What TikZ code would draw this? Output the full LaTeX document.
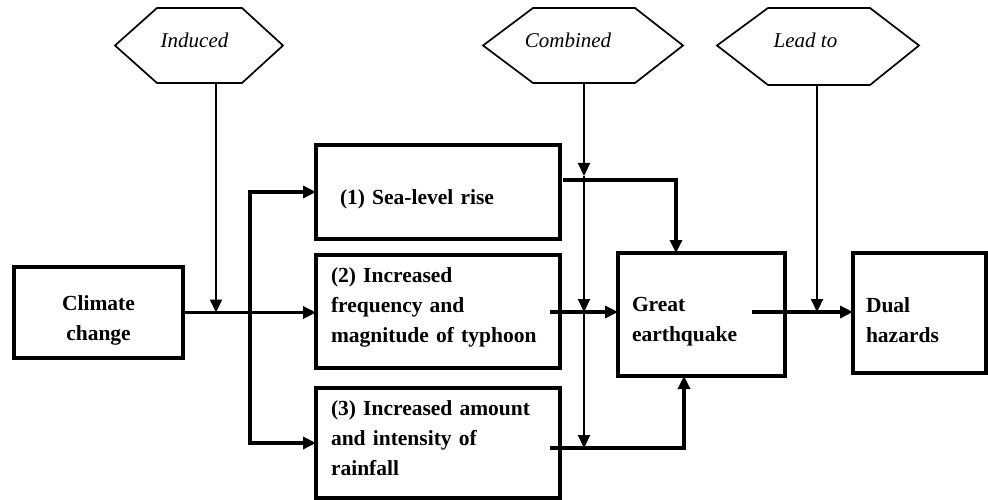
\documentclass[tikz,border=0pt]{standalone}
\usepackage{fontspec}
\setmainfont{Liberation Serif}
\usetikzlibrary{arrows.meta}
\newcommand{\lift}[1]{\rule{0pt}{#1pt}}
\newcommand{\sink}[1]{\rule[-#1pt]{0pt}{0pt}}
\begin{document}
\begin{tikzpicture}[x=1pt,y=-1pt,
  box/.style={draw,line width=3.4pt,inner ysep=0pt,outer sep=0pt,anchor=north west,
    font=\fontsize{21.5}{30}\selectfont\bfseries,align=left},
  flow/.style={line width=3.4pt,-{Triangle[length=13pt,width=12pt]}},
  flowboth/.style={line width=3.4pt,{Triangle[length=13pt,width=12pt]}-{Triangle[length=13pt,width=12pt]}},
  thinarrow/.style={line width=2.2pt,-{Triangle[length=13pt,width=12pt]}},
  hexline/.style={line width=1.7pt,line join=miter},
  hexlbl/.style={inner sep=0pt,font=\fontsize{21}{24}\selectfont\itshape}
]
\useasboundingbox (0,0) rectangle (988,500);

% boxes
\node[box,minimum width=169pt,minimum height=91pt,text width=141pt,inner xsep=14pt,align=center] (cc) at (14,267) {\lift{31}Climate\\change};
\node[box,minimum width=244pt,minimum height=94pt,text width=196pt,inner xsep=24pt] (b1) at (316,145) {\lift{29}(1)\ Sea-level rise};
\node[box,minimum width=244pt,minimum height=113pt,text width=214pt,inner xsep=15pt] (b2) at (316,255) {(2) Increased\\frequency and\\magnitude of typhoon\sink{13}};
\node[box,minimum width=244pt,minimum height=110pt,text width=214pt,inner xsep=15pt] (b3) at (316,388) {(3) Increased amount\\and intensity of\\rainfall\sink{10}};
\node[box,minimum width=167pt,minimum height=123pt,text width=139pt,inner xsep=14pt] (ge) at (618,253) {\lift{29}Great\\earthquake};
\node[box,minimum width=133pt,minimum height=120pt,text width=107pt,inner xsep=13pt] (dh) at (853,253) {\lift{29}Dual\\hazards};

% hexagons
\node[hexlbl] (ind) at (194.5,40) {Induced};
\draw[hexline] (115,45.5) -- (157,8) -- (242,8) -- (283,45.5) -- (242,83) -- (157,83) -- cycle;
\node[hexlbl] (comb) at (568,40) {Combined};
\draw[hexline] (483,45.5) -- (533,8) -- (635,8) -- (683,45.5) -- (635,83) -- (533,83) -- cycle;
\node[hexlbl] (lead) at (805.5,40) {Lead to};
\draw[hexline] (717,45.5) -- (768,8) -- (870,8) -- (919,45.5) -- (870,85) -- (768,85) -- cycle;

\coordinate (indb) at (216,83);
\coordinate (combb) at (584,83);
\coordinate (leadb) at (817,85);

% main flows
\draw[flow] (cc.east) -- (cc.east -| b2.west);
\coordinate (br) at (250,312);
\draw[flowboth] (b1.west) -| (br) |- (b3.west);

\coordinate (o1) at (563,180);
\coordinate (i1) at (676,253);
\draw[flow] (o1) -| (i1);
\coordinate (o2) at (550,312);
\draw[flow] (o2) -- (o2 -| ge.west);
\coordinate (o3) at (550,448);
\coordinate (i3) at (684,376);
\draw[flow] (o3) -| (i3);
\coordinate (o4) at (752,312);
\draw[flow] (o4) -- (o4 -| dh.west);

% thin influence arrows
\draw[thinarrow] (indb) -- (indb |- cc.east);
\coordinate (c1) at (584,176);
\coordinate (c2) at (584,312);
\coordinate (c3) at (584,448);
\draw[thinarrow] (combb) -- (c1);
\draw[thinarrow] (c1) -- (c2);
\draw[thinarrow] (c2) -- (c3);
\draw[thinarrow] (leadb) -- (leadb |- o4);
\end{tikzpicture}
\end{document}
